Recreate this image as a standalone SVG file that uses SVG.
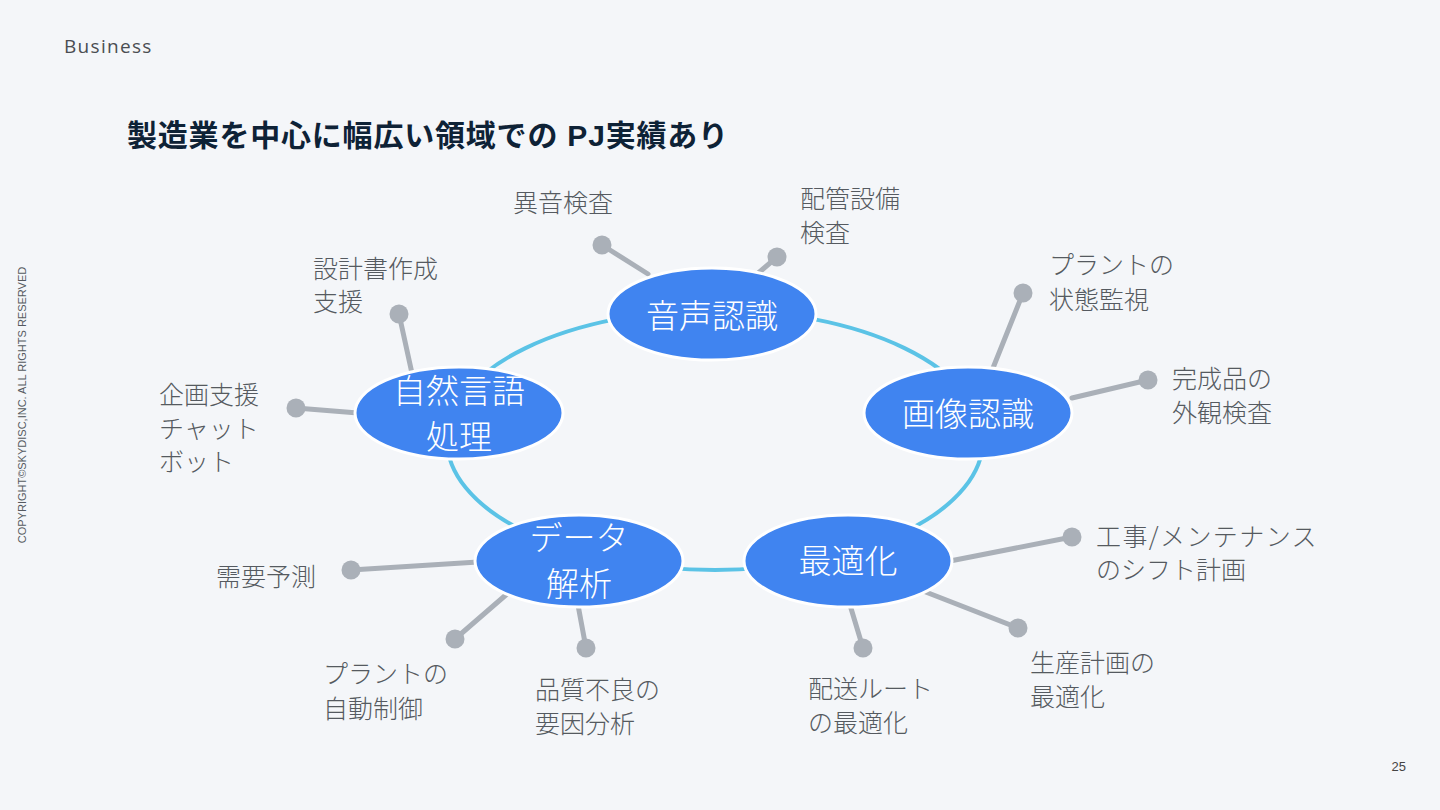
<svg xmlns="http://www.w3.org/2000/svg" width="1440" height="810" viewBox="0 0 1440 810">
<style>
.bg{fill:#f4f6f9}
.node{fill:#4084f0;stroke:#ffffff;stroke-width:3}
.nt{font-family:"Noto Sans CJK JP","Noto Sans",sans-serif;font-size:33px;fill:#ffffff;text-anchor:middle;font-weight:300}
.lbl{font-family:"Noto Sans CJK JP","Noto Sans",sans-serif;font-size:25px;fill:#555a60;font-weight:300}
.spoke{stroke:#aab0b8;stroke-width:5;stroke-linecap:round}
.dot{fill:#aab0b8}
.ring{fill:none;stroke:#5bc3e6;stroke-width:4}
</style>
<rect class="bg" x="0" y="0" width="1440" height="810"/>
<text x="64" y="53" font-family="'Open Sans','Noto Sans',sans-serif" font-size="19" letter-spacing="1.3" fill="#4a4d52">Business</text>
<text x="127" y="146" font-family="'Liberation Sans','Noto Sans CJK JP',sans-serif" font-size="30" letter-spacing="0.8" font-weight="bold" fill="#0e2236">製造業を中心に幅広い領域での PJ実績あり</text>
<text transform="translate(26,405) rotate(-90)" text-anchor="middle" font-family="'Liberation Sans',sans-serif" font-size="11" fill="#555a60">COPYRIGHT©SKYDISC,INC. ALL RIGHTS RESERVED</text>
<text x="1406" y="771" text-anchor="end" font-family="'Liberation Sans',sans-serif" font-size="13" fill="#444">25</text>

<g id="connectors">
<ellipse class="ring" cx="715" cy="440" rx="268" ry="130"/>
<line class="spoke" x1="602" y1="245" x2="648" y2="274"/>
<line class="spoke" x1="777" y1="257" x2="756" y2="275"/>
<line class="spoke" x1="399" y1="314" x2="413" y2="378"/>
<line class="spoke" x1="296" y1="408" x2="358" y2="413"/>
<line class="spoke" x1="1023" y1="293" x2="993" y2="368"/>
<line class="spoke" x1="1148" y1="380" x2="1072" y2="398"/>
<line class="spoke" x1="351" y1="570" x2="478" y2="562"/>
<line class="spoke" x1="455" y1="639" x2="507" y2="594"/>
<line class="spoke" x1="586" y1="648" x2="578" y2="605"/>
<line class="spoke" x1="863" y1="648" x2="850" y2="605"/>
<line class="spoke" x1="1018" y1="628" x2="918" y2="589"/>
<line class="spoke" x1="1072" y1="537" x2="950" y2="561"/>
<circle class="dot" cx="602" cy="245" r="9.5"/>
<circle class="dot" cx="777" cy="257" r="9.5"/>
<circle class="dot" cx="399" cy="314" r="9.5"/>
<circle class="dot" cx="296" cy="408" r="9.5"/>
<circle class="dot" cx="1023" cy="293" r="9.5"/>
<circle class="dot" cx="1148" cy="380" r="9.5"/>
<circle class="dot" cx="351" cy="570" r="9.5"/>
<circle class="dot" cx="455" cy="639" r="9.5"/>
<circle class="dot" cx="586" cy="648" r="9.5"/>
<circle class="dot" cx="863" cy="648" r="9.5"/>
<circle class="dot" cx="1018" cy="628" r="9.5"/>
<circle class="dot" cx="1072" cy="537" r="9.5"/>
</g>

<g id="node-onsei">
<ellipse class="node" cx="712" cy="314" rx="104" ry="46"/>
<text class="nt" x="712" y="328">音声認識</text>
</g>
<g id="node-gazou">
<ellipse class="node" cx="968" cy="413" rx="104" ry="46"/>
<text class="nt" x="968" y="426">画像認識</text>
</g>
<g id="node-saiteki">
<ellipse class="node" cx="848" cy="561" rx="104" ry="46"/>
<text class="nt" x="848" y="573">最適化</text>
</g>
<g id="node-data">
<ellipse class="node" cx="579" cy="561" rx="104" ry="46"/>
<text class="nt" x="579" y="550">データ</text>
<text class="nt" x="579" y="596">解析</text>
</g>
<g id="node-nlp">
<ellipse class="node" cx="459" cy="413" rx="104" ry="46"/>
<text class="nt" x="459" y="403">自然言語</text>
<text class="nt" x="459" y="449">処理</text>
</g>

<g id="labels">
<text class="lbl" x="513" y="212">異音検査</text>
<text class="lbl" x="800" y="208">配管設備</text>
<text class="lbl" x="800" y="242">検査</text>
<text class="lbl" x="313" y="278">設計書作成</text>
<text class="lbl" x="313" y="311">支援</text>
<text class="lbl" x="159" y="404">企画支援</text>
<text class="lbl" x="159" y="438">チャット</text>
<text class="lbl" x="159" y="471">ボット</text>
<text class="lbl" x="1049" y="274">プラントの</text>
<text class="lbl" x="1049" y="309">状態監視</text>
<text class="lbl" x="1172" y="388">完成品の</text>
<text class="lbl" x="1172" y="422">外観検査</text>
<text class="lbl" x="216" y="586">需要予測</text>
<text class="lbl" x="323" y="683">プラントの</text>
<text class="lbl" x="323" y="718">自動制御</text>
<text class="lbl" x="535" y="699">品質不良の</text>
<text class="lbl" x="535" y="733">要因分析</text>
<text class="lbl" x="808" y="698">配送ルート</text>
<text class="lbl" x="808" y="732">の最適化</text>
<text class="lbl" x="1030" y="672">生産計画の</text>
<text class="lbl" x="1030" y="706">最適化</text>
<text class="lbl" x="1096" y="546" letter-spacing="1.4">工事/メンテナンス</text>
<text class="lbl" x="1096" y="579">のシフト計画</text>
</g>
</svg>
